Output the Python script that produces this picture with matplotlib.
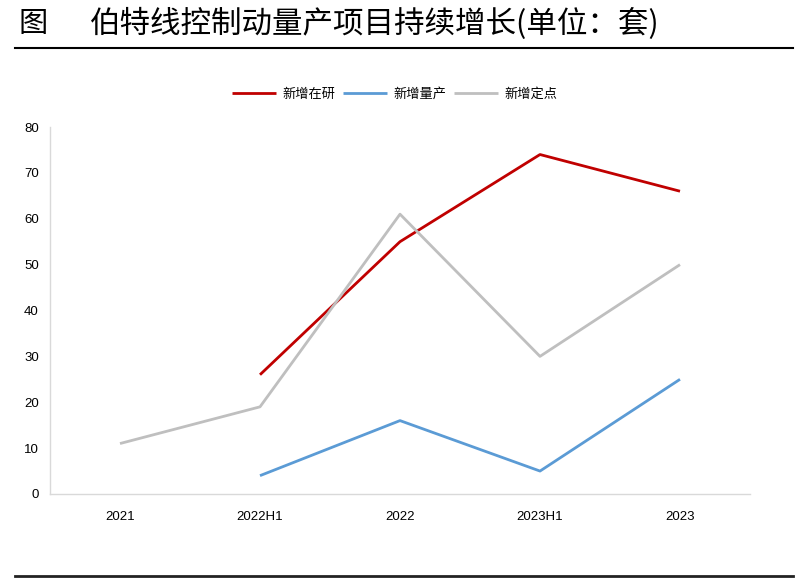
import matplotlib
matplotlib.use("Agg")
import matplotlib.pyplot as plt
import numpy as np

plt.rcParams['font.family'] = ['Liberation Sans', 'Noto Sans CJK SC', 'DejaVu Sans']

categories = ["2021", "2022H1", "2022", "2023H1", "2023"]
new_rd = [None, 26, 55, 74, 66]
new_mass = [None, 4, 16, 5, 25]
new_fixed = [11, 19, 61, 30, 50]
series_names = ["新增在研", "新增量产", "新增定点"]
colors = ["#C00000", "#5B9BD5", "#BFBFBF"]

fig = plt.figure(figsize=(8.05, 5.8), dpi=100)
ax = fig.add_axes([50/805, 86/580, 700/805, 367/580])

x = np.arange(len(categories))
for vals, name, c in zip([new_rd, new_mass, new_fixed], series_names, colors):
    xs = [xi for xi, v in zip(x, vals) if v is not None]
    ys = [v for v in vals if v is not None]
    ax.plot(xs, ys, color=c, lw=2.0, label=name, solid_capstyle='butt')

ax.set_xlim(-0.5, len(categories) - 0.5)
ax.set_ylim(0, 80)
ax.set_yticks(range(0, 81, 10))
ax.set_xticks(x)
ax.set_xticklabels(categories)
ax.tick_params(axis='both', length=0, labelsize=9.5, colors='#000000')
ax.tick_params(axis='x', pad=12)
ax.tick_params(axis='y', pad=8)
for s in ['top', 'right']:
    ax.spines[s].set_visible(False)
for s in ['left', 'bottom']:
    ax.spines[s].set_color('#D9D9D9')
    ax.spines[s].set_linewidth(1.0)

leg = ax.legend(loc='center', bbox_to_anchor=(395/805, 1 - 94/580), bbox_transform=fig.transFigure,
                ncol=3, frameon=False, handlelength=3.3, columnspacing=0.6,
                handletextpad=0.5, prop={'family': ['Noto Sans CJK SC'], 'size': 9.5})

fig.text(18/805, 1 - 24/580, "图", fontsize=21, va='center', ha='left', family=['Noto Sans CJK SC'],
         weight='medium')
fig.text(90/805, 1 - 24/580, "伯特线控制动量产项目持续增长(单位：套)", fontsize=22, va='center', ha='left',
         family=['Noto Sans CJK SC'], weight='medium')
fig.add_artist(plt.Line2D([15/805, 793/805], [1 - 48/580, 1 - 48/580], transform=fig.transFigure,
                          color='black', lw=1.5))
fig.add_artist(plt.Line2D([15/805, 793/805], [1 - 576/580, 1 - 576/580], transform=fig.transFigure,
                          color='#222222', lw=2.0))

fig.savefig("out.png", dpi=100)
